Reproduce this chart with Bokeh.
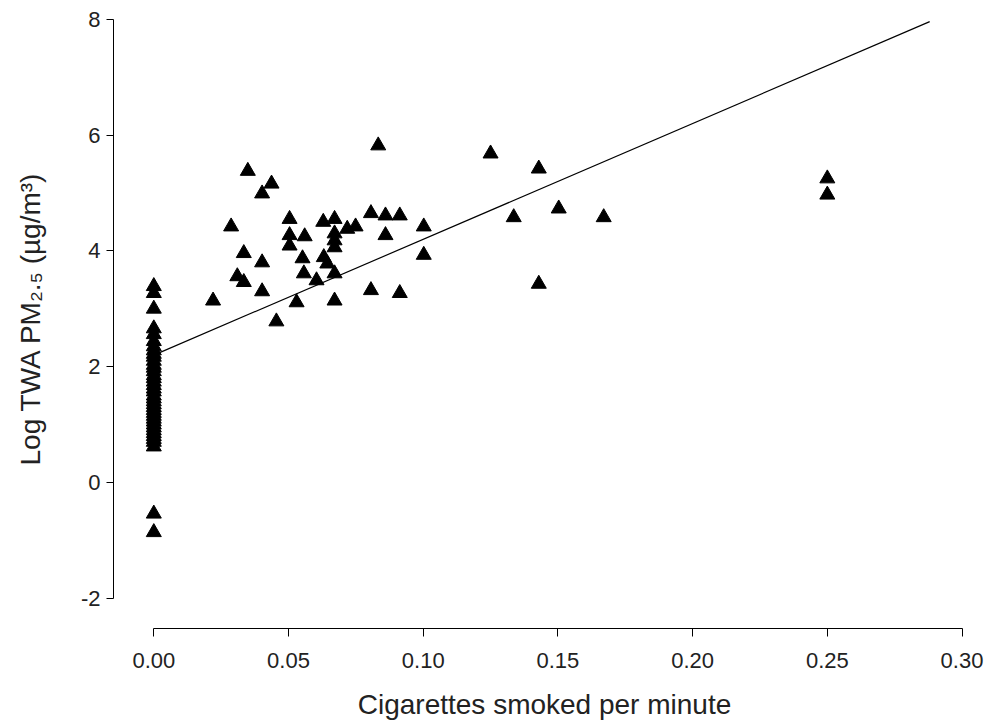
from bokeh.plotting import figure
from bokeh.models import Range1d, FixedTicker, PrintfTickFormatter
from bokeh.embed import file_html
from bokeh.resources import INLINE

# ---- data ----
zero_x_vals = [0.0] * 40
zero_y_vals = [3.39, 3.27, 3.00, 2.66, 2.56, 2.44, 2.35, 2.28, 2.22, 2.17,
               2.10, 2.03, 1.98, 1.92, 1.85, 1.80, 1.74, 1.68, 1.62, 1.57,
               1.50, 1.45, 1.40, 1.35, 1.30, 1.25, 1.20, 1.15, 1.10, 1.05,
               1.00, 0.95, 0.90, 0.85, 0.80, 0.75, 0.70, 0.62, -0.54, -0.86]

smoker_x = [0.0833, 0.0349, 0.0437, 0.0402, 0.0287, 0.0504, 0.0504, 0.0504,
            0.0560, 0.0629, 0.0671, 0.0671, 0.0671, 0.0671, 0.0718, 0.0749,
            0.0806, 0.0860, 0.0913, 0.1002, 0.0860, 0.1002, 0.0334, 0.0402,
            0.0310, 0.0334, 0.0402, 0.0220, 0.0552, 0.0557, 0.0604, 0.0631,
            0.0644, 0.0671, 0.0530, 0.0671, 0.0806, 0.0913, 0.0455, 0.1250,
            0.1429, 0.1336, 0.1503, 0.1670, 0.1429, 0.2500, 0.2500]
smoker_y = [5.82, 5.38, 5.16, 4.99, 4.42, 4.55, 4.27, 4.09,
            4.25, 4.50, 4.55, 4.30, 4.18, 4.06, 4.38, 4.42,
            4.65, 4.61, 4.61, 4.42, 4.27, 3.93, 3.96, 3.80,
            3.56, 3.46, 3.30, 3.14, 3.87, 3.61, 3.49, 3.89,
            3.78, 3.61, 3.11, 3.14, 3.32, 3.27, 2.78, 5.68,
            5.42, 4.58, 4.73, 4.58, 3.43, 5.25, 4.97]

fit_x = [0.0, 0.288]
fit_y = [2.20, 7.96]

x_ticks = [0.0, 0.05, 0.10, 0.15, 0.20, 0.25, 0.30]
y_ticks = [-2, 0, 2, 4, 6, 8]

x_label = "Cigarettes smoked per minute"
y_label = "Log TWA PM\u2082.\u2085 (\u00b5g/m\u00b3)"

FONT = "Liberation Sans"

p = figure(width=985, height=724,
           x_range=Range1d(-0.01496, 0.305), y_range=Range1d(-2.522, 8.187),
           output_backend="svg", toolbar_location=None,
           min_border_left=113, min_border_right=10,
           min_border_top=8, min_border_bottom=96)

p.outline_line_color = None
p.grid.visible = False
p.background_fill_color = "white"
p.border_fill_color = "white"

# regression line
p.line(fit_x, fit_y, line_color="black", line_width=1.2)

# points
p.scatter(zero_x_vals, zero_y_vals, marker="triangle", size=15,
          fill_color="black", line_color="black")
p.scatter(smoker_x, smoker_y, marker="triangle", size=15,
          fill_color="black", line_color="black")

# x axis
xa = p.xaxis[0]
xa.bounds = (0.0, 0.30)
xa.ticker = FixedTicker(ticks=x_ticks, minor_ticks=[])
xa.formatter = PrintfTickFormatter(format="%.2f")
xa.axis_label = x_label
xa.axis_label_text_font = FONT
xa.axis_label_text_font_size = "28px"
xa.axis_label_text_font_style = "normal"
xa.axis_label_text_color = "#222222"
xa.axis_label_standoff = 18
xa.major_label_text_font = FONT
xa.major_label_text_font_size = "22px"
xa.major_label_text_color = "#222222"
xa.major_label_standoff = 16
xa.major_tick_out = 8
xa.major_tick_in = 0
xa.minor_tick_out = 0
xa.minor_tick_in = 0
xa.axis_line_color = "black"
xa.major_tick_line_color = "black"

# y axis
ya = p.yaxis[0]
ya.bounds = (-2, 8)
ya.ticker = FixedTicker(ticks=y_ticks, minor_ticks=[])
ya.formatter = PrintfTickFormatter(format="%d")
ya.axis_label = y_label
ya.axis_label_text_font = FONT
ya.axis_label_text_font_size = "28px"
ya.axis_label_text_font_style = "normal"
ya.axis_label_text_color = "#222222"
ya.axis_label_standoff = 32
ya.major_label_text_font = FONT
ya.major_label_text_font_size = "22px"
ya.major_label_text_color = "#222222"
ya.major_label_standoff = 6
ya.major_tick_out = 7
ya.major_tick_in = 0
ya.minor_tick_out = 0
ya.minor_tick_in = 0
ya.axis_line_color = "black"
ya.major_tick_line_color = "black"

open("out.html", "w").write(file_html(p, INLINE))
